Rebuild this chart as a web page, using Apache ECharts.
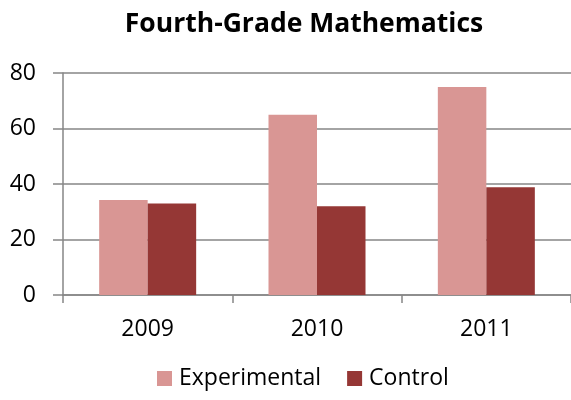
<!DOCTYPE html>
<html>
<head>
<meta charset="utf-8">
<script src="https://cdn.jsdelivr.net/npm/echarts@6/dist/echarts.min.js"></script>
<style>
  html, body { margin: 0; padding: 0; background: #fff; }
  #chart { width: 571px; height: 400px; }
</style>
</head>
<body>
<div id="chart"></div>
<script>
const years = ['2009', '2010', '2011']
const experimental = [34.2, 65, 75]
const control = [33, 32, 38.8]

const myChart = echarts.init(document.getElementById('chart'))
const font = '"Open Sans", Lato, sans-serif'

myChart.setOption({
  animation: false,
  title: {
    text: 'Fourth-Grade Mathematics',
    left: 299,
    textAlign: 'center',
    top: 6,
    textStyle: { fontFamily: font, fontSize: 26.5, fontWeight: 'bold', color: '#000' },
  },
  legend: {
    bottom: 5,
    left: 152,
    itemWidth: 15,
    itemHeight: 15,
    itemGap: 26,
    icon: 'rect',
    textStyle: { fontFamily: font, fontSize: 23, color: '#000', padding: [0, 0, 0, 2] },
    data: ['Experimental', 'Control'],
  },
  grid: { left: 63, right: -2, top: 73, bottom: 105 },
  xAxis: {
    type: 'category',
    data: years,
    axisLine: { lineStyle: { color: '#868686', width: 1.5 } },
    axisTick: { show: true, length: 8, interval: 0, lineStyle: { color: '#868686', width: 1.5 } },
    axisLabel: { fontFamily: font, fontSize: 23, color: '#000', margin: 23 },
  },
  yAxis: {
    type: 'value',
    min: 0,
    max: 80,
    interval: 20,
    axisLine: { show: true, lineStyle: { color: '#868686', width: 1.5 } },
    axisTick: { show: true, length: 10, lineStyle: { color: '#868686', width: 1.5 } },
    axisLabel: { fontFamily: font, fontSize: 23, color: '#000', margin: 27 },
    splitLine: { show: true, lineStyle: { color: '#868686', width: 1.5 } },
  },
  series: [
    {
      name: 'Experimental',
      type: 'bar',
      data: experimental,
      barWidth: 48.5,
      barGap: '0%',
      itemStyle: { color: '#D99694' },
    },
    {
      name: 'Control',
      type: 'bar',
      data: control,
      barWidth: 48.5,
      itemStyle: { color: '#953735' },
    },
  ],
})
</script>
</body>
</html>
